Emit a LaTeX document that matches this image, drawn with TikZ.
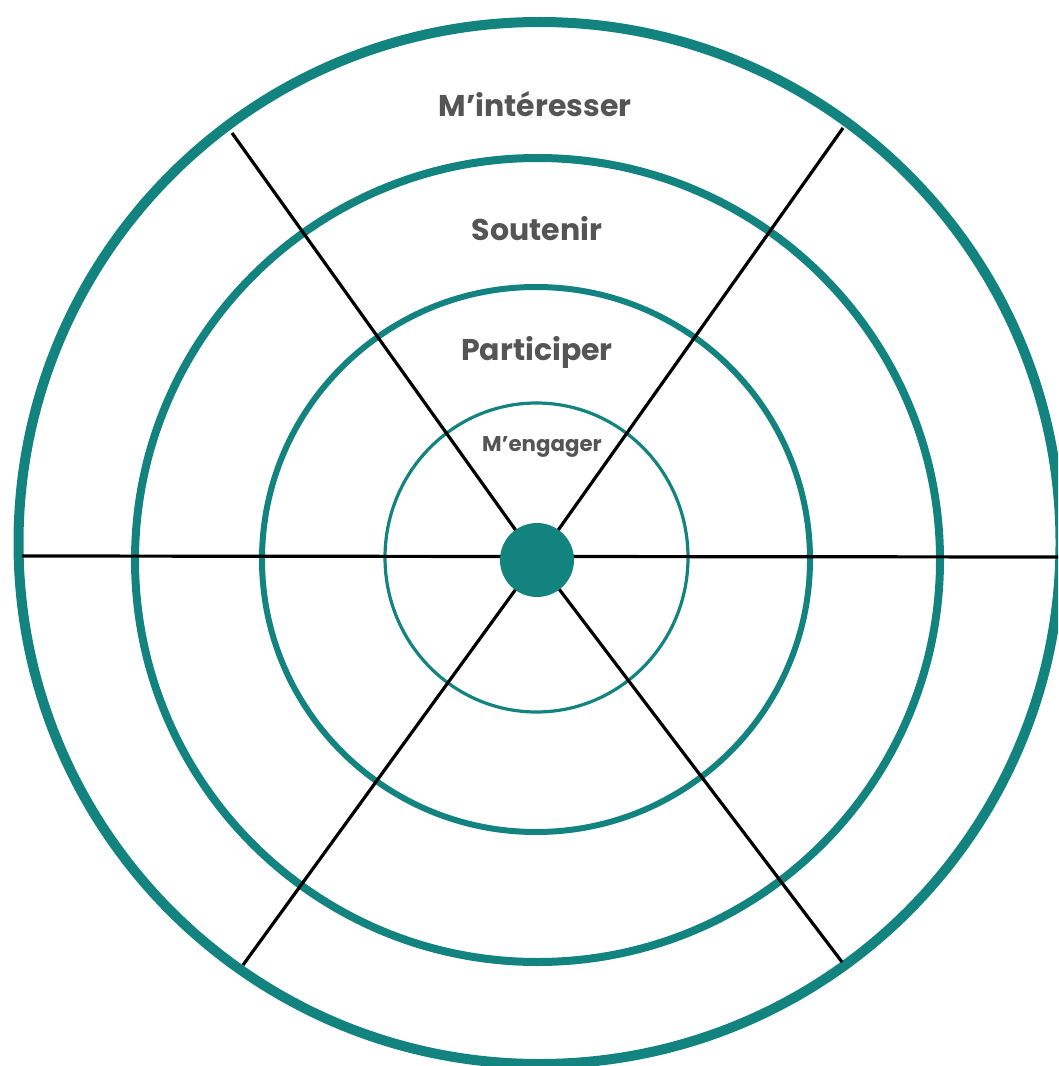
\documentclass[tikz,border=0pt]{standalone}
\usepackage{fontspec}
\setmainfont{Poppins}
\usetikzlibrary{positioning, calc}
\definecolor{ringteal}{HTML}{13837F}
\definecolor{labelgray}{HTML}{555555}

\begin{document}
\begin{tikzpicture}[x=0.75pt, y=-0.75pt,
	ring/.style={draw=ringteal},
	spoke/.style={draw=black, line width=2.4pt},
	level/.style={text=labelgray, font=\bfseries\fontsize{22.5}{26}\selectfont},
	hubdot/.style={circle, fill=ringteal, minimum size=55.5pt, inner sep=0pt}]
	
	\useasboundingbox (0,0) rectangle (1058,1066);
	\clip (0,0) rectangle (1058,1066);
	
	%// rings, outer to inner
	\draw[ring, line width=7.5pt] (539.5,543) circle [radius=521];
	\draw[ring, line width=6pt] (537.5,560) ellipse [x radius=402.5, y radius=402];
	\draw[ring, line width=4.5pt] (536,559.5) ellipse [x radius=274, y radius=272.5];
	\draw[ring, line width=2.4pt] (536.5,557.5) ellipse [x radius=151.5, y radius=154.5];
	
	%// spokes
	\coordinate (c) at (537,560);
	\coordinate (w) at (22,556);
	\coordinate (e) at (1058,557);
	\coordinate (nw) at (232,133);
	\coordinate (ne) at (843,128);
	\coordinate (sw) at (243,965);
	\coordinate (se) at (842,962);
	
	\draw[spoke] (w) -- (e);
	\foreach \p in {nw, ne, sw, se}
	\draw[spoke] (c) -- (\p);
	
	\node[hubdot] (hub) at (c) {};
	
	%// level labels
	\node[level] (interesser) at (535,104) {M’intéresser};
	\node[level] (soutenir) at (537,229) {Soutenir};
	\node[level] (participer) at (537,352) {Participer};
	\node[level, font=\bfseries\fontsize{16}{19}\selectfont] (engager) at (542,447) {M’engager};
	
\end{tikzpicture}
\end{document}
